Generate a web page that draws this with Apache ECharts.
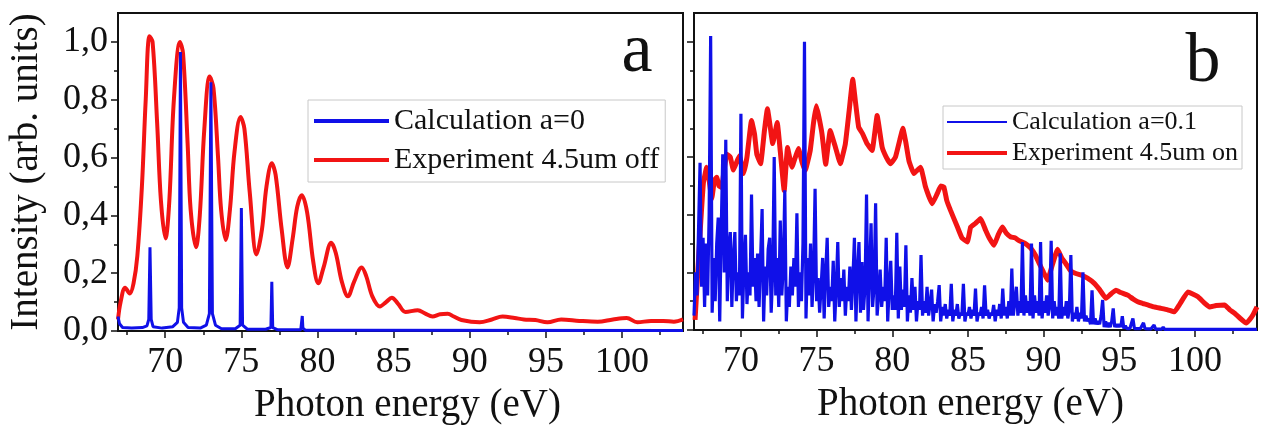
<!DOCTYPE html>
<html>
<head>
<meta charset="utf-8">
<script src="https://cdn.jsdelivr.net/npm/echarts@6/dist/echarts.min.js"></script>
<style>html,body{margin:0;padding:0;background:#fff;}#c{width:1266px;height:425px;}</style>
</head>
<body>
<div id="c"></div>
<script>
// ---------- DATA ----------
const xMajorTicks = [70, 75, 80, 85, 90, 95, 100];
const xMinorTicks = [67.5, 72.5, 77.5, 82.5, 87.5, 92.5, 97.5, 102.5];
const yMajorTicks = [0, 0.2, 0.4, 0.6, 0.8, 1.0];
const yMinorTicks = [0.1, 0.3, 0.5, 0.7, 0.9];

// Panel a: calculation a=0 (blue)
const calcA = [[66.9,0.05],[67.0,0.025],[67.2,0.012],[67.8,0.01],[68.5,0.012],[68.8,0.018],[68.92,0.04],[69.0,0.29],[69.08,0.04],[69.2,0.015],[69.8,0.01],[70.5,0.015],[70.8,0.03],[70.92,0.08],[71.0,0.965],[71.08,0.08],[71.2,0.03],[71.5,0.012],[72.3,0.01],[72.7,0.02],[72.9,0.06],[73.0,0.86],[73.1,0.06],[73.3,0.02],[73.7,0.008],[74.6,0.008],[74.92,0.02],[75.0,0.425],[75.08,0.02],[75.4,0.006],[76.6,0.006],[76.94,0.012],[77.0,0.17],[77.06,0.012],[77.4,0.004],[78.9,0.004],[78.96,0.01],[79.0,0.052],[79.04,0.01],[79.2,0.003],[80.9,0.003],[81.0,0.008],[81.1,0.003],[104.0,0.002]];
// Panel a: experiment 4.5um off (red)
const expA = [[66.9,0.04],[67.07,0.1],[67.37,0.15],[67.67,0.13],[67.92,0.165],[68.17,0.26],[68.47,0.5],[68.72,0.8],[68.97,1.02],[69.17,1.0],[69.47,0.72],[69.72,0.45],[70.02,0.32],[70.27,0.45],[70.57,0.8],[70.97,1.0],[71.17,0.96],[71.47,0.65],[71.67,0.42],[72.02,0.29],[72.27,0.4],[72.57,0.7],[72.92,0.88],[73.17,0.84],[73.47,0.6],[73.67,0.42],[73.97,0.315],[74.25,0.42],[74.55,0.62],[74.95,0.74],[75.2,0.7],[75.55,0.48],[76.0,0.265],[76.35,0.35],[76.65,0.5],[77.0,0.58],[77.25,0.54],[77.65,0.35],[78.03,0.22],[78.37,0.32],[78.67,0.43],[78.97,0.47],[79.32,0.41],[79.72,0.24],[80.05,0.165],[80.4,0.22],[80.9,0.305],[81.2,0.27],[81.6,0.17],[82.0,0.12],[82.4,0.17],[82.9,0.22],[83.2,0.19],[83.6,0.12],[84.1,0.085],[84.5,0.1],[84.88,0.115],[85.28,0.095],[85.78,0.066],[86.58,0.072],[87.08,0.06],[87.55,0.05],[88.05,0.058],[88.55,0.06],[88.95,0.05],[89.45,0.038],[90.65,0.03],[91.45,0.04],[92.15,0.05],[92.95,0.045],[93.55,0.04],[94.3,0.038],[95.1,0.03],[96.0,0.04],[97.2,0.035],[98.4,0.032],[99.4,0.04],[100.3,0.045],[101.0,0.03],[101.9,0.035],[102.7,0.035],[103.4,0.032],[104.0,0.04]];

// Panel b: calculation a=0.1 (blue), sampled every 0.1 eV from 66.9 eV
const calcBStart = 66.9;
const calcBStep = 0.1;
const calcBValues = [
0.05,0.2,
0.12,0.35,0.58,0.15,0.32,0.08,0.3,0.12,0.4,1.02,
0.06,0.25,0.1,0.3,0.39,0.03,0.35,0.61,0.2,0.66,
0.1,0.28,0.34,0.08,0.25,0.34,0.1,0.2,0.12,0.75,
0.04,0.22,0.33,0.09,0.2,0.12,0.47,0.15,0.25,0.1,
0.265,0.08,0.25,0.42,0.03,0.22,0.12,0.28,0.32,0.06,
0.2,0.6,0.12,0.25,0.08,0.38,0.12,0.22,0.485,0.03,
0.15,0.08,0.22,0.12,0.25,0.15,0.405,0.08,0.2,0.1,
0.3,1.0,0.04,0.25,0.12,0.3,0.08,0.2,0.49,0.1,
0.18,0.06,0.15,0.25,0.04,0.2,0.32,0.08,0.15,0.1,
0.24,0.03,0.15,0.305,0.08,0.18,0.1,0.21,0.05,0.15,
0.1,0.22,0.07,0.18,0.32,0.03,0.2,0.305,0.06,0.236,
0.07,0.15,0.47,0.03,0.2,0.37,0.08,0.15,0.44,0.05,
0.12,0.21,0.08,0.15,0.1,0.32,0.03,0.15,0.24,0.07,
0.12,0.07,0.337,0.04,0.22,0.07,0.14,0.08,0.294,0.03,
0.12,0.06,0.18,0.07,0.15,0.03,0.1,0.07,0.26,0.05,
0.1,0.06,0.15,0.05,0.09,0.14,0.03,0.09,0.06,0.1,
0.156,0.03,0.08,0.05,0.09,0.04,0.07,0.05,0.16,0.03,
0.07,0.05,0.09,0.04,0.06,0.05,0.16,0.03,0.06,0.05,
0.08,0.04,0.07,0.05,0.144,0.03,0.06,0.05,0.08,0.04,
0.155,0.05,0.07,0.04,0.06,0.05,0.087,0.03,0.07,0.05,
0.09,0.04,0.144,0.05,0.08,0.04,0.1,0.05,0.213,0.05,
0.1,0.15,0.05,0.1,0.06,0.305,0.05,0.12,0.06,0.1,
0.05,0.3,0.04,0.12,0.06,0.1,0.05,0.305,0.04,0.1,
0.06,0.12,0.05,0.08,0.31,0.04,0.1,0.05,0.08,0.04,
0.266,0.04,0.08,0.05,0.1,0.04,0.07,0.26,0.03,0.06,
0.04,0.08,0.03,0.06,0.04,0.2,0.03,0.05,0.03,0.04,
0.02,0.138,0.02,0.04,0.02,0.03,0.02,0.05,0.104,0.01,
0.03,0.01,0.025,0.01,0.03,0.075,0.01,0.02,0.01,0.02,
0.01,0.048,0.005,0.015,0.005,0.01,0.005,0.01,0.04,0.005,
0.01,0.005,0.01,0.005,0.01,0.025,0.005,0.008,0.004,0.006,
0.004,0.005,0.017,0.003,0.004,0.003,0.004,0.003,0.01,0.002,
0.002
];
const calcBTail = [[104.1,0.002]];
// Panel b: experiment 4.5um on (red)
const expB = [[66.97,0.035],[67.15,0.2],[67.3,0.335],[67.52,0.51],[67.74,0.565],[67.9,0.52],[68.07,0.455],[68.25,0.52],[68.4,0.53],[68.55,0.5],[68.73,0.495],[68.9,0.56],[69.07,0.61],[69.3,0.6],[69.5,0.555],[69.7,0.58],[69.9,0.605],[70.17,0.543],[70.4,0.6],[70.7,0.727],[70.9,0.68],[71.05,0.61],[71.3,0.577],[71.55,0.69],[71.75,0.768],[71.95,0.7],[72.1,0.647],[72.4,0.72],[72.6,0.62],[72.86,0.484],[73.08,0.633],[73.37,0.565],[73.6,0.6],[73.8,0.63],[74.05,0.58],[74.25,0.554],[74.58,0.623],[74.8,0.72],[74.98,0.778],[75.15,0.74],[75.36,0.68],[75.6,0.575],[75.9,0.692],[76.24,0.635],[76.57,0.577],[76.9,0.646],[77.15,0.76],[77.39,0.87],[77.55,0.8],[77.78,0.704],[78.05,0.68],[78.34,0.646],[78.67,0.623],[79.0,0.744],[79.33,0.635],[79.6,0.6],[79.88,0.577],[80.21,0.6],[80.5,0.66],[80.7,0.7],[80.9,0.65],[81.1,0.588],[81.43,0.543],[81.87,0.565],[82.2,0.496],[82.64,0.438],[82.97,0.473],[83.2,0.5],[83.41,0.496],[83.6,0.45],[83.85,0.415],[84.3,0.358],[84.6,0.32],[84.96,0.305],[85.18,0.357],[85.5,0.37],[85.84,0.387],[86.17,0.346],[86.4,0.32],[86.72,0.294],[87.0,0.33],[87.28,0.357],[87.55,0.335],[87.83,0.323],[88.1,0.32],[88.38,0.31],[88.8,0.3],[89.15,0.284],[89.45,0.26],[89.7,0.232],[90.0,0.2],[90.26,0.173],[90.6,0.23],[90.92,0.28],[91.2,0.25],[91.47,0.23],[91.8,0.205],[92.13,0.196],[92.5,0.19],[92.9,0.18],[93.35,0.162],[93.7,0.14],[94.12,0.11],[94.45,0.125],[94.78,0.138],[95.1,0.13],[95.56,0.121],[95.9,0.108],[96.22,0.098],[96.55,0.092],[96.88,0.087],[97.3,0.08],[97.76,0.075],[98.2,0.07],[98.64,0.063],[99.0,0.09],[99.53,0.132],[99.85,0.125],[100.2,0.115],[100.6,0.095],[100.96,0.08],[101.4,0.085],[101.96,0.087],[102.3,0.07],[102.62,0.058],[103.0,0.04],[103.39,0.024],[103.6,0.035],[103.83,0.052],[104.1,0.08]];

// ---------- BUILD ----------
const calcB = calcBValues.map((v, i) => [Math.round((calcBStart + i * calcBStep) * 100) / 100, v]).concat(calcBTail);

const FONT = 'Liberation Serif';
const INK = '#111';
const RED = '#f21414';
const BLUE = '#1010e8';

function xAxes(grid, min, max, namePad) {
  return [
    { type: 'value', gridIndex: grid, min: min, max: max, position: 'bottom',
      name: 'Photon energy (eV)', nameLocation: 'middle', nameGap: 53,
      nameTextStyle: { fontFamily: FONT, fontSize: 39, color: INK, padding: namePad },
      axisLine: { show: true, onZero: false, lineStyle: { color: INK, width: 2 } },
      axisTick: { show: true, length: 7, customValues: xMajorTicks, lineStyle: { color: INK, width: 1.5 } },
      axisLabel: { show: true, customValues: xMajorTicks, margin: 14, fontFamily: FONT, fontSize: 36, color: INK },
      splitLine: { show: false } },
    { type: 'value', gridIndex: grid, min: min, max: max, position: 'bottom',
      axisLine: { show: false, onZero: false },
      axisTick: { show: true, length: 4, customValues: xMinorTicks, lineStyle: { color: INK, width: 1.5 } },
      axisLabel: { show: false, customValues: xMinorTicks },
      splitLine: { show: false } }
  ];
}
function yAxes(grid, showLabels) {
  const main = { type: 'value', gridIndex: grid, min: 0, max: 1.1, position: 'left',
      axisLine: { show: true, onZero: false, lineStyle: { color: INK, width: 2 } },
      axisTick: { show: true, length: 7, customValues: yMajorTicks, lineStyle: { color: INK, width: 1.5 } },
      axisLabel: { show: showLabels, customValues: yMajorTicks, margin: 10, fontFamily: FONT, fontSize: 36, color: INK,
        formatter: v => v.toFixed(1).replace('.', ',') },
      splitLine: { show: false } };
  if (showLabels) {
    main.name = 'Intensity (arb. units)';
    main.nameLocation = 'middle';
    main.nameGap = 72;
    main.nameTextStyle = { fontFamily: FONT, fontSize: 39, color: INK };
  }
  return [main,
    { type: 'value', gridIndex: grid, min: 0, max: 1.1, position: 'left',
      axisLine: { show: false, onZero: false },
      axisTick: { show: true, length: 4, customValues: yMinorTicks, lineStyle: { color: INK, width: 1.5 } },
      axisLabel: { show: false, customValues: yMinorTicks },
      splitLine: { show: false } }];
}

const chart = echarts.init(document.getElementById('c'), null, { renderer: 'canvas' });
chart.setOption({
  animation: false,
  backgroundColor: '#fff',
  grid: [
    { left: 118, top: 13, width: 565, height: 318, show: true, borderColor: INK, borderWidth: 2, backgroundColor: 'transparent', outerBoundsMode: 'none', containLabel: false },
    { left: 694, top: 13, width: 563, height: 317, show: true, borderColor: INK, borderWidth: 2, backgroundColor: 'transparent', outerBoundsMode: 'none', containLabel: false }
  ],
  xAxis: xAxes(0, 66.9, 104.0, [0, 0, 0, 14]).concat(xAxes(1, 66.9, 104.1, [0, 10, 0, 0])),
  yAxis: yAxes(0, true).concat(yAxes(1, false)),
  legend: [
    { data: [
        { name: 'Calculation a=0', lineStyle: { width: 4 } },
        { name: 'Experiment 4.5um off', lineStyle: { width: 4 } }
      ], orient: 'vertical', left: 308, top: 100,
      itemWidth: 75, itemHeight: 12, itemGap: 9, padding: [6, 6, 7, 4],
      itemStyle: { opacity: 0 },
      borderColor: '#c8c8c8', borderWidth: 1, backgroundColor: '#fff',
      textStyle: { fontFamily: FONT, fontSize: 30, color: INK } },
    { data: [
        { name: 'Calculation a=0.1', lineStyle: { width: 2 } },
        { name: 'Experiment 4.5um on', lineStyle: { width: 4 } }
      ], orient: 'vertical', left: 943, top: 106,
      itemWidth: 60, itemHeight: 10, itemGap: 5, padding: [3, 4, 3, 2],
      itemStyle: { opacity: 0 },
      borderColor: '#c8c8c8', borderWidth: 1, backgroundColor: '#fff',
      textStyle: { fontFamily: FONT, fontSize: 26, color: INK } }
  ],
  graphic: [
    { type: 'text', style: { text: 'a', x: 637, y: 53, textAlign: 'center', textVerticalAlign: 'middle', font: '70px "Liberation Serif"', fill: INK } },
    { type: 'text', style: { text: 'b', x: 1203, y: 63, textAlign: 'center', textVerticalAlign: 'middle', font: '70px "Liberation Serif"', fill: INK } }
  ],
  series: [
    { name: 'Experiment 4.5um off', type: 'line', xAxisIndex: 0, yAxisIndex: 0, data: expA, smooth: 0.35,
      symbol: 'none', lineStyle: { color: RED, width: 4 }, itemStyle: { color: RED } },
    { name: 'Calculation a=0', type: 'line', xAxisIndex: 0, yAxisIndex: 0, data: calcA,
      symbol: 'none', lineStyle: { color: BLUE, width: 3 }, itemStyle: { color: BLUE } },
    { name: 'Experiment 4.5um on', type: 'line', xAxisIndex: 2, yAxisIndex: 2, data: expB, smooth: 0.1,
      symbol: 'none', lineStyle: { color: RED, width: 5 }, itemStyle: { color: RED } },
    { name: 'Calculation a=0.1', type: 'line', xAxisIndex: 2, yAxisIndex: 2, data: calcB,
      symbol: 'none', lineStyle: { color: BLUE, width: 3.2 }, itemStyle: { color: BLUE } }
  ]
});
</script>
</body>
</html>
